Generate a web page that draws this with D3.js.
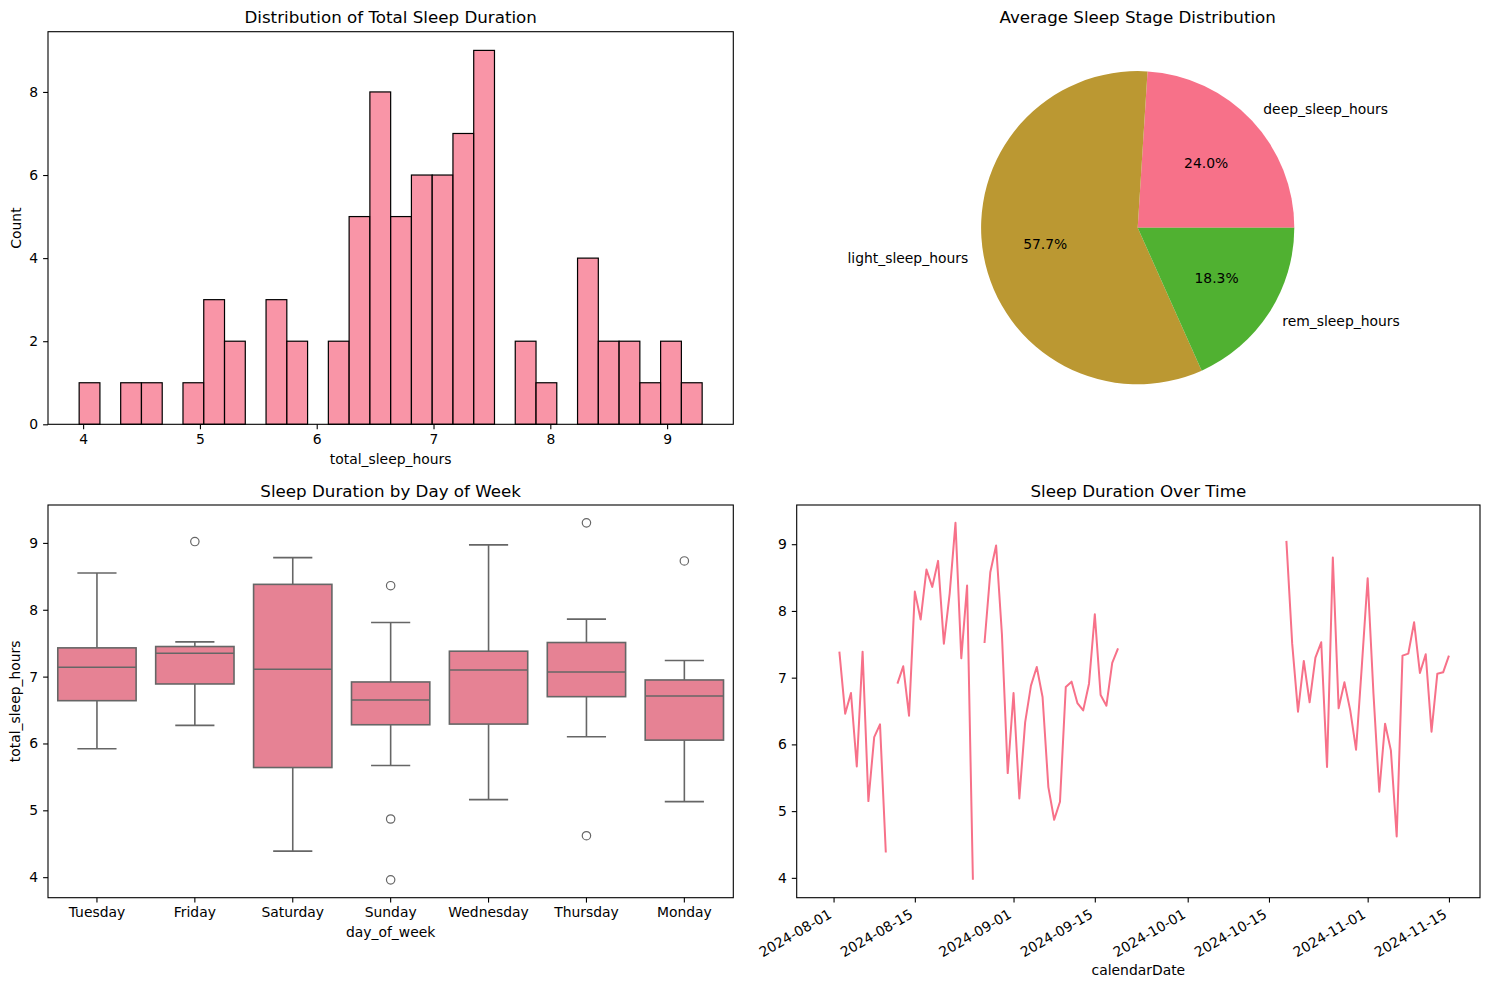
<!DOCTYPE html>
<html><head><meta charset="utf-8">
<script src="https://cdn.jsdelivr.net/npm/d3@7"></script>
<style>
body{margin:0;background:#fff}
svg text{font-family:"DejaVu Sans",sans-serif;fill:#000}
</style>
</head><body>
<svg id="c" width="1489" height="989"></svg>
<script>
// ---------- DATA ----------
const histCounts = [1,0,1,1,0,1,3,2,0,3,2,0,2,5,8,5,6,6,7,9,0,2,1,0,4,2,2,1,2,1];
const histMin = 3.966, histMax = 9.30;
const histXTicks = [4,5,6,7,8,9];
const histYTicks = [0,2,4,6,8];

const pieLabels = ["deep_sleep_hours","light_sleep_hours","rem_sleep_hours"];
const pieValues = [24.0, 57.7, 18.3];
const pieColors = ["#f77189","#bb9832","#50b131"];

const days = ["Tuesday","Friday","Saturday","Sunday","Wednesday","Thursday","Monday"];
const boxLow  = [5.92, 6.27, 4.39, 5.67, 5.16, 6.10, 5.13];
const boxQ1   = [6.64, 6.89, 5.64, 6.28, 6.29, 6.70, 6.05];
const boxMed  = [7.14, 7.35, 7.11, 6.65, 7.10, 7.07, 6.71];
const boxQ3   = [7.43, 7.45, 8.38, 6.92, 7.38, 7.51, 6.95];
const boxHigh = [8.55, 7.52, 8.78, 7.81, 8.97, 7.86, 7.24];
const boxOutliers = [[], [9.02], [], [8.36, 4.87, 3.96], [], [9.30, 4.62], [8.73]];
const valueTicks = [4,5,6,7,8,9];

const timeDates = [
 "2024-07-31",
 "2024-08-02","2024-08-03","2024-08-04","2024-08-05","2024-08-06","2024-08-07","2024-08-08","2024-08-09","2024-08-10",
 "2024-08-11",
 "2024-08-12","2024-08-13","2024-08-14","2024-08-15","2024-08-16","2024-08-17","2024-08-18","2024-08-19","2024-08-20","2024-08-21","2024-08-22","2024-08-23","2024-08-24","2024-08-25",
 "2024-08-26",
 "2024-08-27","2024-08-28","2024-08-29","2024-08-30","2024-08-31","2024-09-01","2024-09-02","2024-09-03","2024-09-04","2024-09-05","2024-09-06","2024-09-07","2024-09-08","2024-09-09","2024-09-10","2024-09-11","2024-09-12","2024-09-13","2024-09-14","2024-09-15","2024-09-16","2024-09-17","2024-09-18","2024-09-19",
 "2024-09-20",
 "2024-10-18","2024-10-19","2024-10-20","2024-10-21","2024-10-22","2024-10-23","2024-10-24","2024-10-25","2024-10-26","2024-10-27","2024-10-28","2024-10-29","2024-10-30","2024-10-31","2024-11-01","2024-11-02","2024-11-03","2024-11-04","2024-11-05","2024-11-06","2024-11-07","2024-11-08","2024-11-09","2024-11-10","2024-11-11","2024-11-12","2024-11-13","2024-11-14","2024-11-15"
];
const timeValues = [
 null,
 7.39,6.46,6.77,5.67,7.39,5.15,6.11,6.30,4.38,
 null,
 6.91,7.17,6.43,8.29,7.87,8.62,8.36,8.75,7.51,8.26,9.32,7.29,8.38,3.97,
 null,
 7.52,8.58,8.98,7.65,5.57,6.77,5.19,6.33,6.88,7.16,6.71,5.36,4.87,5.14,6.86,6.94,6.62,6.51,6.91,7.95,6.74,6.58,7.22,7.44,
 null,
 9.05,7.51,6.49,7.25,6.63,7.30,7.53,5.66,8.80,6.54,6.93,6.51,5.92,7.18,8.49,6.76,5.29,6.31,5.91,4.62,7.33,7.36,7.83,7.07,7.35,6.19,7.06,7.08,7.33
];
const timeTicks = ["2024-08-01","2024-08-15","2024-09-01","2024-09-15","2024-10-01","2024-10-15","2024-11-01","2024-11-15"];

// ---------- LAYOUT ----------
const svg = d3.select("#c");
const FS = 13.9, TFS = 16.7, TICK = 4.9, PAD = 4.9;
const L = {hist:{l:48,r:733.3,t:31.7,b:424.3}, box:{l:48,r:733.3,t:505,b:897.7}, time:{l:796.7,r:1480,t:505,b:897.7}};
const pie = {cx:1137.7, cy:227.7, r:156.6};

function styleAxis(g){
  g.attr("font-family",null).attr("font-size",null);
  g.select(".domain").remove();
  g.selectAll(".tick line").attr("stroke","#000").attr("stroke-width",1.1);
  g.selectAll(".tick text").style("font-size",FS+"px").attr("fill","#000");
}
function frame(b){
  svg.append("rect").attr("x",b.l).attr("y",b.t).attr("width",b.r-b.l).attr("height",b.b-b.t)
    .attr("fill","none").attr("stroke","#000").attr("stroke-width",1.1);
}
function title(txt,x,y){
  svg.append("text").attr("x",x).attr("y",y).attr("text-anchor","middle").style("font-size",TFS+"px").text(txt);
}
function label(txt,x,y,rot){
  const t = svg.append("text").attr("x",x).attr("y",y).attr("text-anchor","middle").style("font-size",FS+"px").text(txt);
  if(rot) t.attr("transform",`rotate(-90,${x},${y})`);
}
function pad(ext){ const s=(ext[1]-ext[0])*0.05; return [ext[0]-s, ext[1]+s]; }

// ---------- HISTOGRAM ----------
{
  const b = L.hist;
  const w = (histMax-histMin)/histCounts.length;
  const bins = histCounts.map((c,i)=>({x0:histMin+i*w, x1:histMin+(i+1)*w, c}));
  const x = d3.scaleLinear().domain(pad([histMin,histMax])).range([b.l,b.r]);
  const y = d3.scaleLinear().domain([0, d3.max(histCounts)*1.05]).range([b.b,b.t]);
  svg.append("g").selectAll("rect").data(bins.filter(d=>d.c>0)).join("rect")
    .attr("x",d=>x(d.x0)).attr("width",d=>x(d.x1)-x(d.x0))
    .attr("y",d=>y(d.c)).attr("height",d=>y(0)-y(d.c))
    .attr("fill","#f77189").attr("fill-opacity",0.75).attr("stroke","#000").attr("stroke-width",1.2);
  svg.append("g").attr("transform",`translate(0,${b.b})`)
    .call(d3.axisBottom(x).tickValues(histXTicks).tickFormat(d3.format("d")).tickSizeInner(TICK).tickSizeOuter(0).tickPadding(PAD)).call(styleAxis);
  svg.append("g").attr("transform",`translate(${b.l},0)`)
    .call(d3.axisLeft(y).tickValues(histYTicks).tickFormat(d3.format("d")).tickSizeInner(TICK).tickSizeOuter(0).tickPadding(PAD)).call(styleAxis);
  frame(b);
  title("Distribution of Total Sleep Duration",(b.l+b.r)/2,b.t-8.5);
  label("total_sleep_hours",(b.l+b.r)/2,463.5);
  label("Count",21,(b.t+b.b)/2,true);
}

// ---------- PIE ----------
{
  const arcs = d3.pie().sort(null).startAngle(Math.PI/2).endAngle(Math.PI/2-2*Math.PI)(pieValues);
  const arc = d3.arc().innerRadius(0).outerRadius(pie.r);
  const g = svg.append("g").attr("transform",`translate(${pie.cx},${pie.cy})`);
  g.selectAll("path").data(arcs).join("path").attr("d",arc).attr("fill",(d,i)=>pieColors[i]);
  arcs.forEach((a,i)=>{
    const m = (a.startAngle+a.endAngle)/2;
    const sx = Math.sin(m), sy = -Math.cos(m);
    g.append("text").attr("x",1.1*pie.r*sx).attr("y",1.1*pie.r*sy).attr("dy","0.32em")
      .attr("text-anchor", sx>0?"start":"end").style("font-size",FS+"px").text(pieLabels[i]);
    g.append("text").attr("x",0.6*pie.r*sx).attr("y",0.6*pie.r*sy).attr("dy","0.32em")
      .attr("text-anchor","middle").style("font-size",FS+"px").text(d3.format(".1f")(pieValues[i]/d3.sum(pieValues)*100)+"%");
  });
  title("Average Sleep Stage Distribution",pie.cx,23.2);
}

// ---------- BOX PLOT ----------
const allVals = timeValues.filter(v=>v!=null);
const yExt = pad([Math.min(d3.min(boxLow), d3.min(boxOutliers.flat())), Math.max(d3.max(boxHigh), d3.max(boxOutliers.flat()))]);
{
  const b = L.box;
  const x = d3.scaleBand().domain(days).range([b.l,b.r]).paddingInner(0.2).paddingOuter(0.1);
  const y = d3.scaleLinear().domain(yExt).range([b.b,b.t]);
  const LC = "#666666", LW = 1.6;
  const g = svg.append("g");
  days.forEach((d,i)=>{
    const x0 = x(d), bw = x.bandwidth(), cx = x0+bw/2, cap = bw/4;
    g.append("line").attr("x1",cx).attr("x2",cx).attr("y1",y(boxQ3[i])).attr("y2",y(boxHigh[i])).attr("stroke",LC).attr("stroke-width",LW);
    g.append("line").attr("x1",cx).attr("x2",cx).attr("y1",y(boxQ1[i])).attr("y2",y(boxLow[i])).attr("stroke",LC).attr("stroke-width",LW);
    g.append("line").attr("x1",cx-cap).attr("x2",cx+cap).attr("y1",y(boxHigh[i])).attr("y2",y(boxHigh[i])).attr("stroke",LC).attr("stroke-width",LW);
    g.append("line").attr("x1",cx-cap).attr("x2",cx+cap).attr("y1",y(boxLow[i])).attr("y2",y(boxLow[i])).attr("stroke",LC).attr("stroke-width",LW);
    g.append("rect").attr("x",x0).attr("width",bw).attr("y",y(boxQ3[i])).attr("height",y(boxQ1[i])-y(boxQ3[i]))
      .attr("fill","#e68294").attr("stroke",LC).attr("stroke-width",LW);
    g.append("line").attr("x1",x0).attr("x2",x0+bw).attr("y1",y(boxMed[i])).attr("y2",y(boxMed[i])).attr("stroke",LC).attr("stroke-width",LW);
    boxOutliers[i].forEach(v=>{
      g.append("circle").attr("cx",cx).attr("cy",y(v)).attr("r",4.2).attr("fill","none").attr("stroke",LC).attr("stroke-width",1.2);
    });
  });
  svg.append("g").attr("transform",`translate(0,${b.b})`)
    .call(d3.axisBottom(x).tickSizeInner(TICK).tickSizeOuter(0).tickPadding(PAD)).call(styleAxis);
  svg.append("g").attr("transform",`translate(${b.l},0)`)
    .call(d3.axisLeft(y).tickValues(valueTicks).tickFormat(d3.format("d")).tickSizeInner(TICK).tickSizeOuter(0).tickPadding(PAD)).call(styleAxis);
  frame(b);
  title("Sleep Duration by Day of Week",(b.l+b.r)/2,b.t-8.5);
  label("day_of_week",(b.l+b.r)/2,937);
  label("total_sleep_hours",20.5,(b.t+b.b)/2,true);
}

// ---------- TIME SERIES ----------
{
  const b = L.time;
  const parse = d3.utcParse("%Y-%m-%d");
  const data = timeDates.map((d,i)=>({d:parse(d), v:timeValues[i]}));
  const xExt = d3.extent(data,d=>d.d);
  const span = (xExt[1]-xExt[0])*0.05;
  const x = d3.scaleUtc().domain([new Date(+xExt[0]-span), new Date(+xExt[1]+span)]).range([b.l,b.r]);
  const y = d3.scaleLinear().domain(pad(d3.extent(allVals))).range([b.b,b.t]);
  const line = d3.line().defined(d=>d.v!=null).x(d=>x(d.d)).y(d=>y(d.v));
  svg.append("path").datum(data).attr("d",line).attr("fill","none").attr("stroke","#f77189").attr("stroke-width",2).attr("stroke-linejoin","round");
  const ax = svg.append("g").attr("transform",`translate(0,${b.b})`)
    .call(d3.axisBottom(x).tickValues(timeTicks.map(parse)).tickFormat(d3.utcFormat("%Y-%m-%d")).tickSizeInner(TICK).tickSizeOuter(0).tickPadding(PAD)).call(styleAxis);
  ax.selectAll(".tick text").attr("x",-1.5).attr("y",19.5).attr("dy",null).attr("text-anchor","end")
    .attr("transform","rotate(-30,-1.5,19.5)");
  svg.append("g").attr("transform",`translate(${b.l},0)`)
    .call(d3.axisLeft(y).tickValues(valueTicks).tickFormat(d3.format("d")).tickSizeInner(TICK).tickSizeOuter(0).tickPadding(PAD)).call(styleAxis);
  frame(b);
  title("Sleep Duration Over Time",(b.l+b.r)/2,b.t-8.5);
  label("calendarDate",(b.l+b.r)/2,975);
}
</script>
</body></html>
